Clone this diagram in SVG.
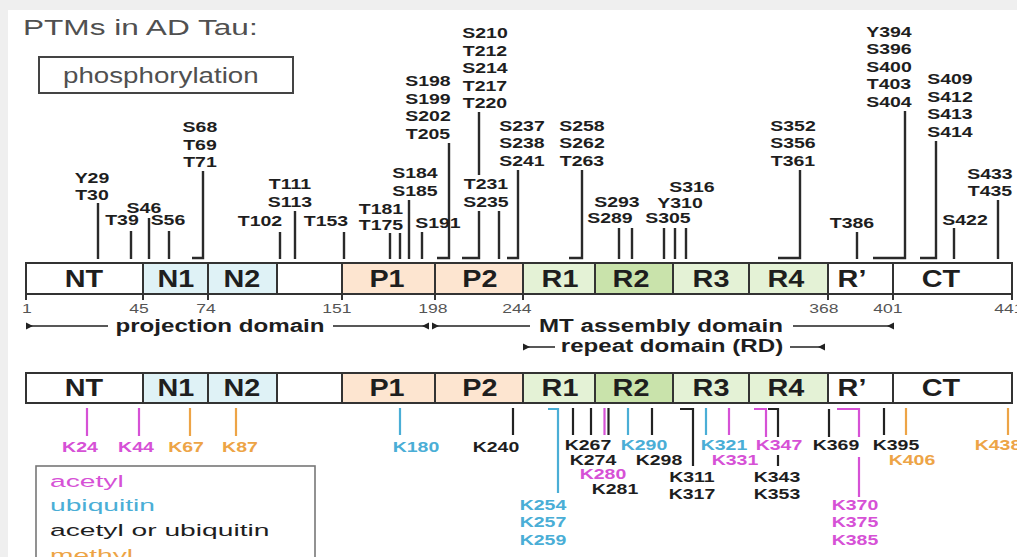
<svg xmlns="http://www.w3.org/2000/svg" width="1017" height="557" viewBox="0 0 1017 557">
<style>
text{font-family:"Liberation Sans",Arial,sans-serif;transform-box:fill-box}
.title{font-size:21.5px;fill:#505050;transform-origin:0% 50%;transform:scaleX(1.47)}
.phos{font-size:22px;fill:#505050;transform-origin:0% 50%;transform:scaleX(1.26)}
.leg{font-size:17px;transform-origin:0% 50%;transform:scaleX(1.66)}
.site{font-size:15px;font-weight:bold;fill:#1e1e1e;text-anchor:middle;transform-origin:50% 50%;transform:scaleX(1.3)}
.seg{font-size:24px;font-weight:bold;fill:#1e1e1e;text-anchor:middle;transform-origin:50% 50%;transform:scaleX(1.2)}
.num{font-size:13px;fill:#555;text-anchor:middle;transform-origin:50% 50%;transform:scaleX(1.35)}
.dom{font-size:19px;font-weight:bold;fill:#1e1e1e;text-anchor:middle;transform-origin:50% 50%;transform:scaleX(1.27)}
.box{stroke:#333;stroke-width:2}
.w{fill:#fff}.n{fill:#dff2f6}.p{fill:#fde5d0}.r{fill:#e4f2d6}.r2{fill:#c9e3ab}
.ln{fill:none;stroke:#2a2a2a;stroke-width:2.4}
.dl{fill:none;stroke:#222;stroke-width:1.6}
.ah{fill:#222}
.mg{fill:#d651d6}.bl{fill:#4aaed6}.bk{fill:#1e1e1e}.or{fill:#eda446}
.lmg{fill:none;stroke:#d651d6;stroke-width:2.2}
.lbl{fill:none;stroke:#4aaed6;stroke-width:2.2}
.lbk{fill:none;stroke:#222;stroke-width:2.2}
.lor{fill:none;stroke:#eda446;stroke-width:2.2}
</style>
<rect x="0" y="0" width="1017" height="557" fill="#efefef"/>
<rect x="8" y="10" width="1009" height="547" fill="#fff"/>

<g id="title"><text class="title" x="23" y="35">PTMs in AD Tau:</text></g>
<g id="phospho-box">
<rect x="39" y="57" width="254" height="36" fill="#fff" stroke="#444" stroke-width="2"/>
<text class="phos" x="63" y="83">phosphorylation</text>
</g>

<!-- top bar -->
<g id="bar-top">
<rect class="w box" x="26" y="263" width="117" height="31"/>
<rect class="n box" x="143" y="263" width="65" height="31"/>
<rect class="n box" x="208" y="263" width="69" height="31"/>
<rect class="w box" x="277" y="263" width="65" height="31"/>
<rect class="p box" x="342" y="263" width="93" height="31"/>
<rect class="p box" x="435" y="263" width="88" height="31"/>
<rect class="r box" x="523" y="263" width="72" height="31"/>
<rect class="r2 box" x="595" y="263" width="78" height="31"/>
<rect class="r box" x="673" y="263" width="76" height="31"/>
<rect class="r box" x="749" y="263" width="79" height="31"/>
<rect class="w box" x="828" y="263" width="65" height="31"/>
<rect class="w box" x="893" y="263" width="119" height="31"/>
<path class="box" d="M26,294V300M143,294V300M208,294V300M342,294V300M435,294V300M523,294V300M828,294V300M893,294V300M1012,294V300"/>
<text class="seg" x="84" y="287">NT</text>
<text class="seg" x="176" y="287">N1</text>
<text class="seg" x="242" y="287">N2</text>
<text class="seg" x="387" y="287">P1</text>
<text class="seg" x="480" y="287">P2</text>
<text class="seg" x="560" y="287">R1</text>
<text class="seg" x="631" y="287">R2</text>
<text class="seg" x="711" y="287">R3</text>
<text class="seg" x="786" y="287">R4</text>
<text class="seg" x="852" y="287">R’</text>
<text class="seg" x="941" y="287">CT</text>
</g>

<g id="numbers">
<text class="num" x="27" y="313">1</text>
<text class="num" x="139" y="313">45</text>
<text class="num" x="206" y="313">74</text>
<text class="num" x="337" y="313">151</text>
<text class="num" x="433" y="313">198</text>
<text class="num" x="517" y="313">244</text>
<text class="num" x="824" y="313">368</text>
<text class="num" x="888" y="313">401</text>
<text class="num" x="1009" y="313">441</text>
</g>

<g id="domains">
<path class="dl" d="M26,326H108M333,326H428M432,326H530M793,326H893M523,347H555M790,347H825"/>
<polygon class="ah" points="26,322.5 26,329.5 33,326"/>
<polygon class="ah" points="429,322.5 429,329.5 422,326"/>
<polygon class="ah" points="432,322.5 432,329.5 439,326"/>
<polygon class="ah" points="894,322.5 894,329.5 887,326"/>
<polygon class="ah" points="523,343.5 523,350.5 530,347"/>
<polygon class="ah" points="825,343.5 825,350.5 818,347"/>
<text class="dom" x="220" y="332">projection domain</text>
<text class="dom" x="661" y="332">MT assembly domain</text>
<text class="dom" x="672" y="352">repeat domain (RD)</text>
</g>

<!-- bottom bar -->
<g id="bar-bottom">
<rect class="w box" x="26" y="373" width="117" height="30"/>
<rect class="n box" x="143" y="373" width="65" height="30"/>
<rect class="n box" x="208" y="373" width="69" height="30"/>
<rect class="w box" x="277" y="373" width="65" height="30"/>
<rect class="p box" x="342" y="373" width="93" height="30"/>
<rect class="p box" x="435" y="373" width="88" height="30"/>
<rect class="r box" x="523" y="373" width="72" height="30"/>
<rect class="r2 box" x="595" y="373" width="78" height="30"/>
<rect class="r box" x="673" y="373" width="76" height="30"/>
<rect class="r box" x="749" y="373" width="79" height="30"/>
<rect class="w box" x="828" y="373" width="65" height="30"/>
<rect class="w box" x="893" y="373" width="119" height="30"/>
<text class="seg" x="84" y="396">NT</text>
<text class="seg" x="176" y="396">N1</text>
<text class="seg" x="242" y="396">N2</text>
<text class="seg" x="387" y="396">P1</text>
<text class="seg" x="480" y="396">P2</text>
<text class="seg" x="560" y="396">R1</text>
<text class="seg" x="631" y="396">R2</text>
<text class="seg" x="711" y="396">R3</text>
<text class="seg" x="786" y="396">R4</text>
<text class="seg" x="852" y="396">R’</text>
<text class="seg" x="941" y="396">CT</text>
</g>

<g id="connectors">
<path class="ln" d="M98,203V259M131,231V259M149,218V259M169,231V259M192,258H203V171M280,232V259M295,211V259M344,232V259M390,233V259M400,233V259M409,200V259M422,232V259M437,258H449V143M479,112V175M462,258H479V211M499,211V259M507,258H518V170M569,258H582V170M619,228V259M632,228V259M664,228V259M675,228V259M686,228V259M778,258H800V170M857,232V259M873,258H905V111M920,258H936V141M954,228V259M998,200V259"/>
<path class="lmg" d="M87,408V436M139,408V436M604.5,408V435M729,408V435M754,409H766V437M837,409H859V437M859,457V497"/>
<path class="lor" d="M190,408V436M236,408V436M906,408V435M1008,408V435"/>
<path class="lbl" d="M400,408V435M548,409H558V493M628,408V435M706,408V435"/>
<path class="lbk" d="M513,408V435M573,408V435M591,408V435M608.5,408V435M652,408V435M680,409H693V466M768,409H778V437M778,455V466M829,409V437M884,408V435"/>
</g>

<g id="site-Y29"><text class="site" x="92" y="183">Y29</text><text class="site" x="92" y="200.5">T30</text></g>
<g id="site-T39"><text class="site" x="122" y="225.5">T39</text></g>
<g id="site-S46"><text class="site" x="144" y="213">S46</text></g>
<g id="site-S56"><text class="site" x="168" y="225.5">S56</text></g>
<g id="site-S68"><text class="site" x="200" y="132.5">S68</text><text class="site" x="200" y="150">T69</text><text class="site" x="200" y="167.5">T71</text></g>
<g id="site-T102"><text class="site" x="260" y="226.5">T102</text></g>
<g id="site-T111"><text class="site" x="290" y="189.5">T111</text><text class="site" x="290" y="207">S113</text></g>
<g id="site-T153"><text class="site" x="326" y="226.5">T153</text></g>
<g id="site-T181"><text class="site" x="381" y="214.5">T181</text><text class="site" x="381" y="230">T175</text></g>
<g id="site-S184"><text class="site" x="415" y="178">S184</text><text class="site" x="415" y="196.5">S185</text></g>
<g id="site-S191"><text class="site" x="438" y="228">S191</text></g>
<g id="site-S198"><text class="site" x="428" y="86.5">S198</text><text class="site" x="428" y="104">S199</text><text class="site" x="428" y="121.5">S202</text><text class="site" x="428" y="139">T205</text></g>
<g id="site-S210"><text class="site" x="485" y="38.5">S210</text><text class="site" x="485" y="56">T212</text><text class="site" x="485" y="73.5">S214</text><text class="site" x="485" y="91">T217</text><text class="site" x="485" y="108.5">T220</text></g>
<g id="site-T231"><text class="site" x="486" y="189.5">T231</text><text class="site" x="486" y="207">S235</text></g>
<g id="site-S237"><text class="site" x="522" y="131">S237</text><text class="site" x="522" y="148.5">S238</text><text class="site" x="522" y="166">S241</text></g>
<g id="site-S258"><text class="site" x="582" y="131">S258</text><text class="site" x="582" y="148.5">S262</text><text class="site" x="582" y="166">T263</text></g>
<g id="site-S293"><text class="site" x="617" y="207">S293</text><text class="site" x="610" y="223">S289</text></g>
<g id="site-S316"><text class="site" x="692" y="192.5">S316</text><text class="site" x="680" y="208">Y310</text><text class="site" x="668" y="223.5">S305</text></g>
<g id="site-S352"><text class="site" x="793" y="131">S352</text><text class="site" x="793" y="148.5">S356</text><text class="site" x="793" y="166">T361</text></g>
<g id="site-T386"><text class="site" x="852" y="228">T386</text></g>
<g id="site-Y394"><text class="site" x="889" y="37">Y394</text><text class="site" x="889" y="54.5">S396</text><text class="site" x="889" y="72">S400</text><text class="site" x="889" y="89.5">T403</text><text class="site" x="889" y="107">S404</text></g>
<g id="site-S409"><text class="site" x="950" y="84.5">S409</text><text class="site" x="950" y="102">S412</text><text class="site" x="950" y="119.5">S413</text><text class="site" x="950" y="137">S414</text></g>
<g id="site-S422"><text class="site" x="965" y="225.5">S422</text></g>
<g id="site-S433"><text class="site" x="990" y="179">S433</text><text class="site" x="990" y="196.5">T435</text></g>

<g id="site-K24"><text class="site mg" x="80" y="452">K24</text></g>
<g id="site-K44"><text class="site mg" x="136" y="452">K44</text></g>
<g id="site-K67"><text class="site or" x="186" y="452">K67</text></g>
<g id="site-K87"><text class="site or" x="240" y="452">K87</text></g>
<g id="site-K180"><text class="site bl" x="416" y="452">K180</text></g>
<g id="site-K240"><text class="site bk" x="496" y="452">K240</text></g>
<g id="site-K254"><text class="site bl" x="543" y="510">K254</text><text class="site bl" x="543" y="527.5">K257</text><text class="site bl" x="543" y="545">K259</text></g>
<g id="site-K267"><text class="site bk" x="588" y="450">K267</text></g>
<g id="site-K274"><text class="site bk" x="593" y="465.5">K274</text></g>
<g id="site-K280"><text class="site mg" x="603" y="479.5">K280</text></g>
<g id="site-K281"><text class="site bk" x="615" y="494">K281</text></g>
<g id="site-K290"><text class="site bl" x="644" y="450">K290</text></g>
<g id="site-K298"><text class="site bk" x="659" y="465.5">K298</text></g>
<g id="site-K311"><text class="site bk" x="692" y="482">K311</text><text class="site bk" x="692" y="499">K317</text></g>
<g id="site-K321"><text class="site bl" x="724" y="450">K321</text></g>
<g id="site-K331"><text class="site mg" x="735" y="465.5">K331</text></g>
<g id="site-K347"><text class="site mg" x="779" y="450">K347</text></g>
<g id="site-K343"><text class="site bk" x="777" y="482">K343</text><text class="site bk" x="777" y="499">K353</text></g>
<g id="site-K369"><text class="site bk" x="836" y="450">K369</text></g>
<g id="site-K370"><text class="site mg" x="855" y="510">K370</text><text class="site mg" x="855" y="527.5">K375</text><text class="site mg" x="855" y="545">K385</text></g>
<g id="site-K395"><text class="site bk" x="896" y="450">K395</text></g>
<g id="site-K406"><text class="site or" x="912" y="465.5">K406</text></g>
<g id="site-K438"><text class="site or" x="998" y="450">K438</text></g>

<g id="legend">
<rect x="36" y="466" width="279" height="110" fill="#fff" stroke="#777" stroke-width="1.6"/>
<text class="leg mg" x="50" y="487">acetyl</text>
<text class="leg bl" x="50" y="511">ubiquitin</text>
<text class="leg bk" x="50" y="536">acetyl or ubiquitin</text>
<text class="leg or" x="50" y="561">methyl</text>
</g>
</svg>
